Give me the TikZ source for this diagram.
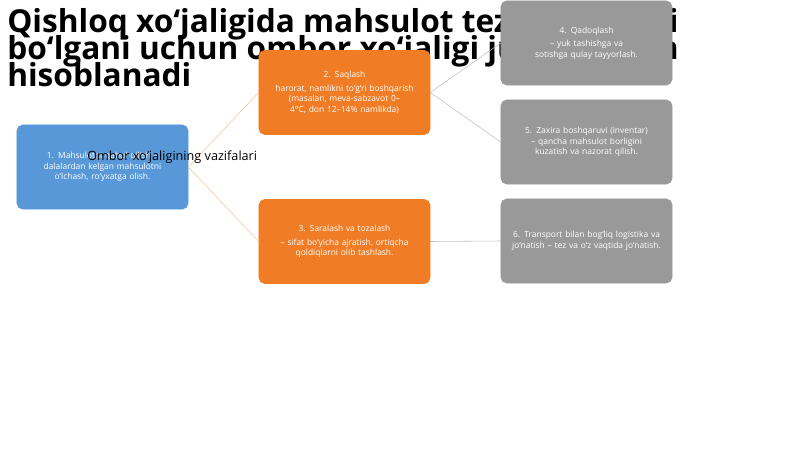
\documentclass[tikz,border=0pt]{standalone}
\usepackage{fontspec}
\setmainfont{Open Sans}
\usetikzlibrary{positioning}
\definecolor{taskblue}{RGB}{88,152,216}
\definecolor{taskorange}{RGB}{240,125,38}
\tikzset{
  taskbox/.style={rounded corners=4pt, minimum width=4.275cm, minimum height=2.1cm, text width=3.9cm, align=center, text=white, font=\fontsize{6}{7.5}\selectfont, inner sep=2pt},
  bluebox/.style={taskbox, fill=taskblue, draw=taskblue},
  orangebox/.style={taskbox, fill=taskorange, draw=taskorange},
  greybox/.style={taskbox, fill=black!40, draw=black!40},
  titleline/.style={anchor=base west, inner sep=0pt, font=\fontsize{22.5}{22.5}\bfseries\selectfont},
  link/.style={thin}
}
\hyphenpenalty=10000
\begin{document}
\begin{tikzpicture}[x=0.025cm, y=-0.025cm]
  \useasboundingbox (0,0) rectangle (800,449);
  % title
  \node[titleline] (t1) at (7,32) {Qishloq xo‘jaligida mahsulot tez buziluvchi};
  \node[titleline] (t2) at (7,59) {bo‘lgani uchun ombor xo‘jaligi juda muhim};
  \node[titleline] (t3) at (7,86) {hisoblanadi};
  % boxes
  \node[bluebox] (qabul) at (102.5,167) {1. Mahsulotni qabul qilish – dalalardan kelgan mahsulotni o‘lchash, ro‘yxatga olish.};
  \node[orangebox] (saqlash) at (344.5,92.5) {2. Saqlash\\[2pt] harorat, namlikni to‘g‘ri boshqarish (masalan, meva-sabzavot 0–4°C, don 12–14\% namlikda)};
  \node[orangebox] (saralash) at (344.5,241.5) {3. Saralash va tozalash\\[2pt] – sifat bo‘yicha ajratish, ortiqcha qoldiqlarni olib tashlash.};
  \node[greybox] (qadoq) at (586.5,43) {4. Qadoqlash\\[2pt] – yuk tashishga va sotishga qulay tayyorlash.};
  \node[greybox] (zaxira) at (586.5,142) {5. Zaxira boshqaruvi (inventar) – qancha mahsulot borligini kuzatish va nazorat qilish.};
  \node[greybox] (logist) at (586.5,241) {6. Transport bilan bog‘liq logistika va jo‘natish – tez va o‘z vaqtida jo‘natish.};
  % connectors
  \draw[link, taskorange!45] (qabul.east) -- (saqlash.west);
  \draw[link, taskorange!45] (qabul.east) -- (saralash.west);
  \draw[link, black!25] (saqlash.east) -- (qadoq.west);
  \draw[link, black!25] (saqlash.east) -- (zaxira.west);
  \draw[link, black!25] (saralash.east) -- (logist.west);
  % label
  \node[anchor=west, inner sep=0pt, font=\fontsize{9}{9}\selectfont] (vazifa) at (87,157) {Ombor xo‘jaligining vazifalari};
\end{tikzpicture}
\end{document}
